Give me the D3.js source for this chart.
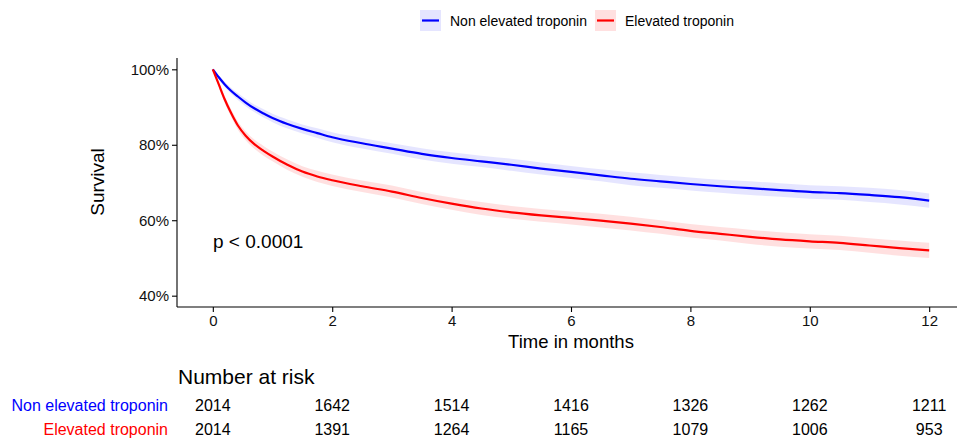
<!DOCTYPE html>
<html><head><meta charset="utf-8">
<script src="https://cdn.jsdelivr.net/npm/d3@7"></script>
<style>body{margin:0;background:#fff}svg{display:block;font-family:"Liberation Sans",Arial,sans-serif}</style>
</head><body><svg id="c" width="957" height="443"></svg>
<script>
const times = [0,0.1,0.2,0.3,0.42,0.55,0.7,0.85,1,1.25,1.5,1.75,2,2.5,3,3.5,4,4.5,5,5.5,6,6.5,7,7.5,8,8.5,9,9.5,10,10.5,11,11.5,12];
const nonElevated = [100,97.9,96.0,94.4,92.8,91.2,89.6,88.3,87.1,85.5,84.2,83.1,82.0,80.4,79.0,77.6,76.5,75.6,74.7,73.7,72.8,71.9,71.0,70.3,69.6,69.0,68.5,68.0,67.5,67.2,66.7,66.1,65.2];
const elevated = [100,96.0,92.0,88.6,85.1,82.4,80.1,78.4,76.9,74.7,72.9,71.6,70.6,69.0,67.6,65.9,64.4,63.1,62.1,61.3,60.6,59.9,59.1,58.2,57.2,56.4,55.6,54.9,54.4,54.0,53.3,52.6,52.0];
const nonElevatedCI = [0,0.5,0.7,0.8,0.9,1.0,1.0,1.1,1.1,1.2,1.2,1.3,1.3,1.4,1.4,1.5,1.5,1.5,1.6,1.6,1.6,1.6,1.7,1.7,1.7,1.7,1.8,1.8,1.8,1.8,1.9,1.9,1.9];
const elevatedCI = [0,0.6,0.9,1.0,1.1,1.2,1.2,1.3,1.3,1.4,1.4,1.5,1.5,1.5,1.6,1.6,1.6,1.7,1.7,1.7,1.7,1.8,1.8,1.8,1.8,1.8,1.9,1.9,1.9,1.9,1.9,2.0,2.0];
const seriesNames = ["Non elevated troponin","Elevated troponin"];
const colors = ["#0000FF","#FF0000"];
const bandColors = ["rgba(0,0,255,0.10)","rgba(255,0,0,0.12)"];
const xTicks = [0,2,4,6,8,10,12];
const yTicks = [40,60,80,100];
const riskNonElevated = [2014,1642,1514,1416,1326,1262,1211];
const riskElevated = [2014,1391,1264,1165,1079,1006,953];
const pText = "p < 0.0001";

const svg = d3.select("#c");
const x = d3.scaleLinear().domain([-0.6,12.6]).range([177,965]);
const y = d3.scaleLinear().domain([37,103]).range([307,58]);

const series = [
  {name:seriesNames[0], v:nonElevated, ci:nonElevatedCI},
  {name:seriesNames[1], v:elevated, ci:elevatedCI}
];

// bands
series.forEach((s,i)=>{
  const pts = times.map((t,j)=>({t, lo:s.v[j]-s.ci[j], hi:s.v[j]+s.ci[j]}));
  svg.append("path").datum(pts)
    .attr("d", d3.area().curve(d3.curveMonotoneX).x(d=>x(d.t)).y0(d=>y(d.lo)).y1(d=>y(d.hi)))
    .attr("fill", bandColors[i]);
});
// lines
series.forEach((s,i)=>{
  const pts = times.map((t,j)=>({t, v:s.v[j]}));
  svg.append("path").datum(pts)
    .attr("d", d3.line().curve(d3.curveMonotoneX).x(d=>x(d.t)).y(d=>y(d.v)))
    .attr("fill","none").attr("stroke",colors[i]).attr("stroke-width",2.2)
    .attr("stroke-linejoin","round");
});

// axes
const gx = svg.append("g").attr("transform","translate(0,307)")
  .call(d3.axisBottom(x).tickValues(xTicks).tickSize(5).tickPadding(3).tickSizeOuter(0));
const gy = svg.append("g").attr("transform","translate(177,0)")
  .call(d3.axisLeft(y).tickValues(yTicks).tickFormat(d=>d+"%").tickSize(5).tickPadding(3).tickSizeOuter(0));
[gx,gy].forEach(g=>{
  g.select(".domain").attr("stroke","#000").attr("stroke-width",1.1);
  g.selectAll(".tick line").attr("stroke","#000").attr("stroke-width",1.1);
  g.selectAll(".tick text").attr("fill","#111").style("font-size","15px").style("font-family","Liberation Sans, Arial, sans-serif");
});
gx.select(".domain").attr("d", `M${x(-0.6)},0H965`);
gy.select(".domain").attr("d", `M0,${y(37)}V${y(103)}`);

// axis titles
svg.append("text").attr("x",571).attr("y",348).attr("text-anchor","middle")
  .style("font-size","18.5px").attr("fill","#000").text("Time in months");
svg.append("text").attr("transform","translate(104,182) rotate(-90)").attr("text-anchor","middle")
  .style("font-size","19px").attr("fill","#000").text("Survival");

// p-value
svg.append("text").attr("x",213).attr("y",248).style("font-size","19px").attr("fill","#000").text(pText);

// legend
const legX = [420,595], legTX = [450,625];
series.forEach((s,i)=>{
  svg.append("rect").attr("x",legX[i]).attr("y",10).attr("width",21).attr("height",21).attr("fill",bandColors[i]);
  svg.append("line").attr("x1",legX[i]+2).attr("x2",legX[i]+19).attr("y1",20.5).attr("y2",20.5)
    .attr("stroke",colors[i]).attr("stroke-width",2.2);
  svg.append("text").attr("x",legTX[i]).attr("y",26).style("font-size","14px").attr("fill","#000").text(s.name);
});

// risk table
svg.append("text").attr("x",178).attr("y",384).style("font-size","21px").attr("fill","#000").text("Number at risk");
const rows = [riskNonElevated, riskElevated];
const rowY = [411,435];
rows.forEach((r,i)=>{
  svg.append("text").attr("x",168).attr("y",rowY[i]).attr("text-anchor","end")
    .style("font-size","16px").attr("fill",colors[i]).text(seriesNames[i]);
  svg.selectAll(null).data(r).enter().append("text")
    .attr("x",(d,j)=>x(xTicks[j])).attr("y",rowY[i]).attr("text-anchor","middle")
    .style("font-size","16px").attr("fill","#000").text(d=>d);
});
</script></body></html>
